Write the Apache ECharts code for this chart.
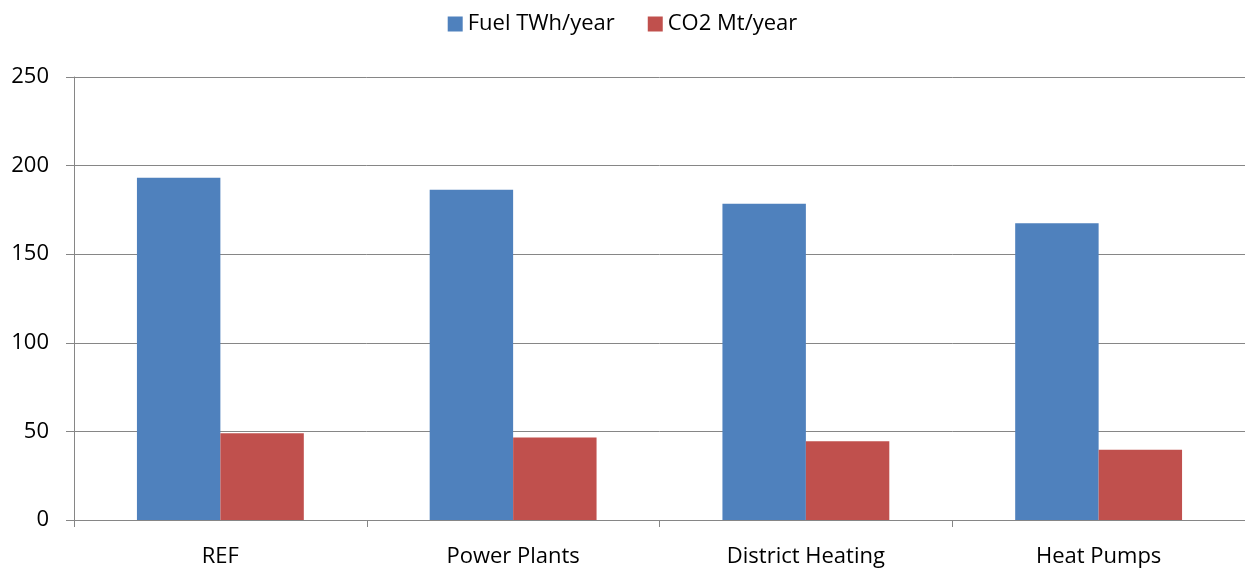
<!DOCTYPE html>
<html>
<head>
<meta charset="utf-8">
<script src="https://cdn.jsdelivr.net/npm/echarts@6/dist/echarts.min.js"></script>
<style>
  html, body { margin: 0; padding: 0; background: #fff; }
  #main { width: 1245px; height: 570px; }
</style>
</head>
<body>
<div id="main"></div>
<script>
var categories = ['REF', 'Power Plants', 'District Heating', 'Heat Pumps'];
var fuel = [193.2, 186.4, 178.5, 167.4];
var co2 = [49.0, 46.6, 44.4, 39.7];
var yTicks = [0, 50, 100, 150, 200, 250];

var myChart = echarts.init(document.getElementById('main'));
var font = '"Open Sans", "Liberation Sans", sans-serif';

var option = {
    animation: false,
    textStyle: { fontFamily: font },
    legend: {
        top: 8,
        left: 'center',
        itemWidth: 15,
        itemHeight: 15,
        itemGap: 33,
        icon: 'rect',
        textStyle: { fontSize: 22, color: '#000', fontFamily: font },
        data: ['Fuel TWh/year', 'CO2 Mt/year']
    },
    grid: { left: 74, right: 0, top: 77, bottom: 50 },
    xAxis: {
        type: 'category',
        data: categories,
        axisLine: { lineStyle: { color: '#868686', width: 1 } },
        axisTick: { show: true, length: 7, lineStyle: { color: '#868686' } },
        axisLabel: { fontSize: 22, color: '#000', margin: 26, fontFamily: font }
    },
    yAxis: {
        type: 'value',
        min: yTicks[0],
        max: yTicks[yTicks.length - 1],
        interval: 50,
        axisLine: { show: true, lineStyle: { color: '#868686', width: 1 } },
        axisTick: { show: true, length: 8, lineStyle: { color: '#868686' } },
        splitLine: { lineStyle: { color: '#868686', width: 1 } },
        axisLabel: { fontSize: 22, color: '#000', margin: 25, fontFamily: font }
    },
    series: [
        {
            name: 'Fuel TWh/year',
            type: 'bar',
            data: fuel,
            barGap: '0%',
            barCategoryGap: '43%',
            itemStyle: { color: '#4f81bd' }
        },
        {
            name: 'CO2 Mt/year',
            type: 'bar',
            data: co2,
            itemStyle: { color: '#c0504d' }
        }
    ]
};
myChart.setOption(option);
</script>
</body>
</html>
